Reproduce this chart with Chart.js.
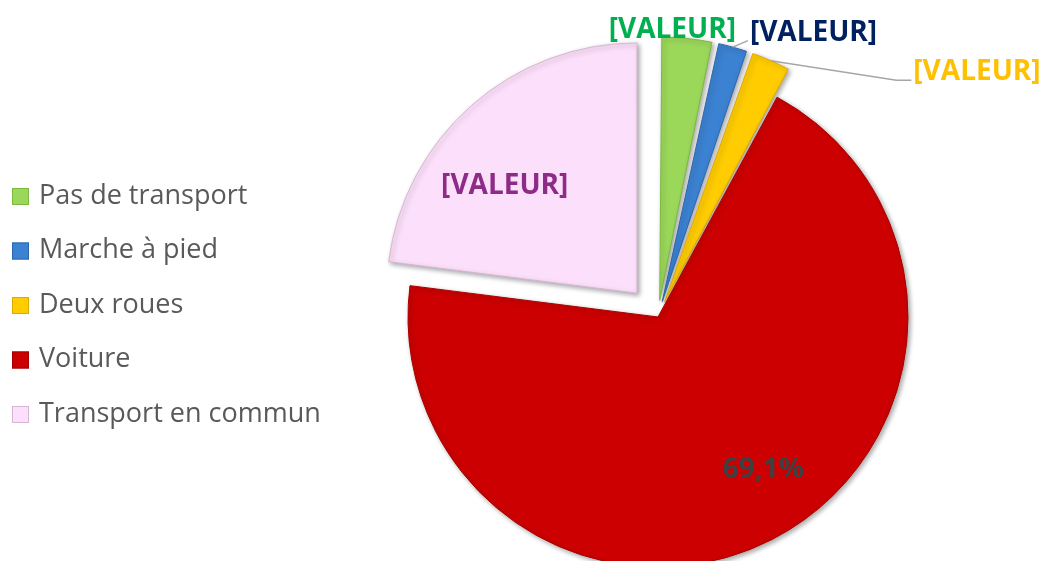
<!DOCTYPE html>
<html lang="fr">
<head>
    <meta charset="UTF-8">
    <title>Mode de transport</title>
    <script src="https://cdn.jsdelivr.net/npm/chart.js"></script>
    <style>
        html, body { margin: 0; padding: 0; background: #fff; overflow: hidden; }
    </style>
</head>
<body>
    <canvas id="chartCanvas" width="1040" height="561"></canvas>

    <script>
        var labels = ['Pas de transport', 'Marche à pied', 'Deux roues', 'Voiture', 'Transport en commun'];
        var values = [3.3, 2.0, 2.6, 69.1, 23.0];
        var valueTexts = ['[VALEUR]', '[VALEUR]', '[VALEUR]', '69,1%', '[VALEUR]'];
        var sliceColors = ['#9BD85A', '#3C82D2', '#FFCC00', '#CC0000', '#FCDFFA'];
        var edgeColors = ['#7DB842', '#2A66AE', '#E0A800', '#A80000', '#D6B6D3'];
        var textColors = ['#00B050', '#002060', '#FFC000', '#404040', '#8E2A87'];
        var explodePx = [30, 30, 30, 0, 32];
        // where each value label sits: angle (deg, clockwise from top) and distance from the slice centre
        var labelAngle = [2.5, 30, 54.7, 145.5, 309];
        var labelDist = [257, 295, 376, 186, 170];
        var leaderLine = [false, true, true, false, false];

        var total = values.reduce(function (a, b) { return a + b; }, 0);

        // chart.js moves an arc by offset/4 * (2 - sin(circumference)), so invert that
        function offsetFor(i) {
            var c = values[i] / total * 2 * Math.PI;
            return explodePx[i] * 4 / (2 - Math.sin(Math.min(Math.PI, c)));
        }

        var shadowPlugin = {
            id: 'shadow',
            beforeDatasetsDraw: function (chart) {
                var ctx = chart.ctx;
                ctx.save();
                ctx.shadowColor = 'rgba(0,0,0,0.35)';
                ctx.shadowBlur = 5;
                ctx.shadowOffsetX = 2;
                ctx.shadowOffsetY = 2;
            },
            afterDatasetsDraw: function (chart) {
                chart.ctx.restore();
            }
        };

        var valueLabels = {
            id: 'valueLabels',
            afterDatasetsDraw: function (chart) {
                var ctx = chart.ctx;
                var arcs = chart.getDatasetMeta(0).data;
                ctx.save();
                ctx.font = 'bold 28px "Open Sans"';
                ctx.textBaseline = 'middle';
                ctx.textAlign = 'center';
                arcs.forEach(function (arc, i) {
                    var half = (arc.startAngle + arc.endAngle) / 2;
                    var cx = arc.x + Math.cos(half) * explodePx[i];
                    var cy = arc.y + Math.sin(half) * explodePx[i];
                    var a = labelAngle[i] * Math.PI / 180;
                    var lx = cx + Math.sin(a) * labelDist[i];
                    var ly = cy - Math.cos(a) * labelDist[i];
                    var w = ctx.measureText(valueTexts[i]).width;
                    if (leaderLine[i]) {
                        var r = arc.outerRadius;
                        var sx = cx + Math.cos(half) * r;
                        var sy = cy + Math.sin(half) * r;
                        var ex = lx - w / 2 - 2;
                        var ey = ly + 8;
                        ctx.strokeStyle = '#A6A6A6';
                        ctx.lineWidth = 1.5;
                        ctx.beginPath();
                        ctx.moveTo(sx, sy);
                        if (ex - sx > 40) {
                            ctx.lineTo(ex - 15, ey);
                        }
                        ctx.lineTo(ex, ey);
                        ctx.stroke();
                    }
                    ctx.fillStyle = textColors[i];
                    ctx.fillText(valueTexts[i], lx, ly);
                });
                ctx.restore();
            }
        };

        var sideLegend = {
            id: 'sideLegend',
            afterDraw: function (chart) {
                var ctx = chart.ctx;
                ctx.save();
                ctx.font = '27px "Open Sans"';
                ctx.textBaseline = 'middle';
                ctx.textAlign = 'left';
                labels.forEach(function (name, i) {
                    var y = 196 + i * 54.5;
                    ctx.fillStyle = sliceColors[i];
                    ctx.fillRect(12, y - 8, 17, 17);
                    ctx.strokeStyle = edgeColors[i];
                    ctx.lineWidth = 1;
                    ctx.strokeRect(12.5, y - 7.5, 16, 16);
                    ctx.fillStyle = '#595959';
                    ctx.fillText(name, 39, y);
                });
                ctx.restore();
            }
        };

        var ctx = document.getElementById('chartCanvas').getContext('2d');
        var myChart = new Chart(ctx, {
            type: 'pie',
            data: {
                labels: labels,
                datasets: [{
                    data: values,
                    backgroundColor: sliceColors,
                    borderColor: edgeColors,
                    borderWidth: 1,
                    radius: 250,
                    clip: false,
                    offset: function (c) { return offsetFor(c.dataIndex); }
                }]
            },
            options: {
                responsive: false,
                animation: false,
                layout: { padding: { left: 276, top: 73, right: 0, bottom: 0 } },
                plugins: {
                    legend: { display: false },
                    tooltip: { enabled: false }
                }
            },
            plugins: [shadowPlugin, valueLabels, sideLegend]
        });
    </script>
</body>
</html>
